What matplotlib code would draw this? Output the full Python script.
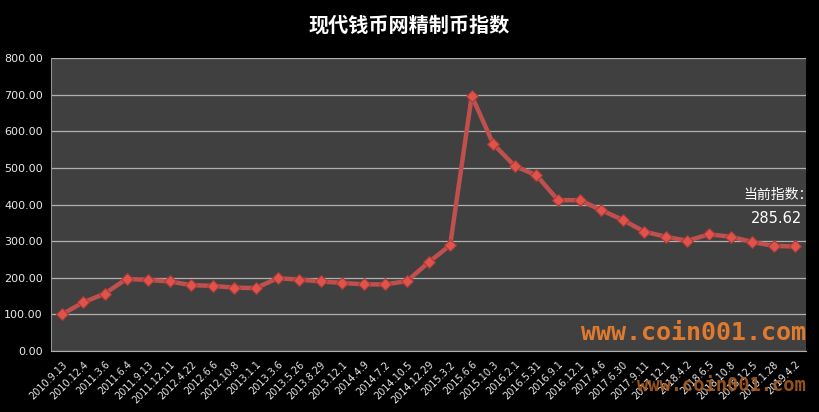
import matplotlib
matplotlib.use('Agg')
from matplotlib import pyplot as plt
import numpy as np

plt.rcParams['font.family'] = ['Noto Sans CJK SC', 'DejaVu Sans']

# datos
fechas = ['2010.9.13', '2010.12.4', '2011.3.6', '2011.6.4', '2011.9.13', '2011.12.11',
          '2012.4.22', '2012.6.6', '2012.10.8', '2013.1.1', '2013.3.6', '2013.5.26',
          '2013.8.29', '2013.12.1', '2014.4.9', '2014.7.2', '2014.10.5', '2014.12.29',
          '2015.3.2', '2015.6.6', '2015.10.3', '2016.2.1', '2016.5.31', '2016.9.1',
          '2016.12.1', '2017.4.6', '2017.6.30', '2017.9.11', '2017.12.1', '2018.4.2',
          '2018.6.5', '2018.10.8', '2018.12.5', '2019.1.28', '2019.4.2']
indice = [100, 133, 157, 197, 194, 190, 180, 178, 173, 172, 199, 195,
          190, 186, 182, 182, 191, 242, 289, 697, 565, 505, 480, 412,
          412, 385, 358, 326, 312, 301, 319, 312, 298, 287, 285.62]
y_ticks = [0, 100, 200, 300, 400, 500, 600, 700, 800]

titulo = '现代钱币网精制币指数'
etiqueta_actual = '当前指数：'
valor_actual = '285.62'
marca_agua = 'www.coin001.com'

fig = plt.figure(figsize=(8.19, 4.12), dpi=100, facecolor='black')
ax = fig.add_axes([0.0623, 0.148, 0.922, 0.711])
ax.set_facecolor('#404040')

x = np.arange(len(fechas))
ax.plot(x, indice, color='#c0504d', lw=3.2, zorder=3)
ax.plot(x, indice, ls='none', marker='D', ms=6.5, markerfacecolor='#e0524c',
        markeredgecolor='#a83a36', markeredgewidth=0.8, zorder=4)

ax.set_xlim(-0.5, len(fechas) - 0.5)
ax.set_ylim(0, 800)
ax.set_yticks(y_ticks)
ax.set_yticklabels(['%.2f' % v for v in y_ticks], color='#e8e8e8', fontsize=8,
                   family='DejaVu Sans')
ax.set_xticks(x)
ax.set_xticklabels(fechas, rotation=45, ha='right', rotation_mode='anchor',
                   color='#e8e8e8', fontsize=7, family='DejaVu Sans')
ax.tick_params(length=0, pad=6)
ax.grid(axis='y', color='#b0b0b0', lw=0.9)
ax.set_axisbelow(True)
for s in ['top', 'right']:
    ax.spines[s].set_visible(False)
ax.spines['left'].set_color('#909090')
ax.spines['bottom'].set_color('#b0b0b0')

fig.text(0.5, 0.938, titulo, color='white', fontsize=14.5, fontweight='bold',
         ha='center', va='center')

ax.text(34.8, 426, etiqueta_actual, color='white', fontsize=10, ha='right', va='center')
ax.text(34.3, 363, valor_actual, color='white', fontsize=10.5, ha='right', va='center',
        family='DejaVu Sans')

ax.text(34.5, 49, marca_agua, color='#e07a2e', fontsize=18, fontweight='bold',
        family='DejaVu Sans Mono', ha='right', va='center', zorder=5)
fig.text(0.984, 0.065, marca_agua, color='#a85a1d', fontsize=13.5, fontweight='bold',
         family='DejaVu Sans Mono', ha='right', va='center', alpha=0.9)

plt.savefig('out.png', dpi=100, facecolor='black')
